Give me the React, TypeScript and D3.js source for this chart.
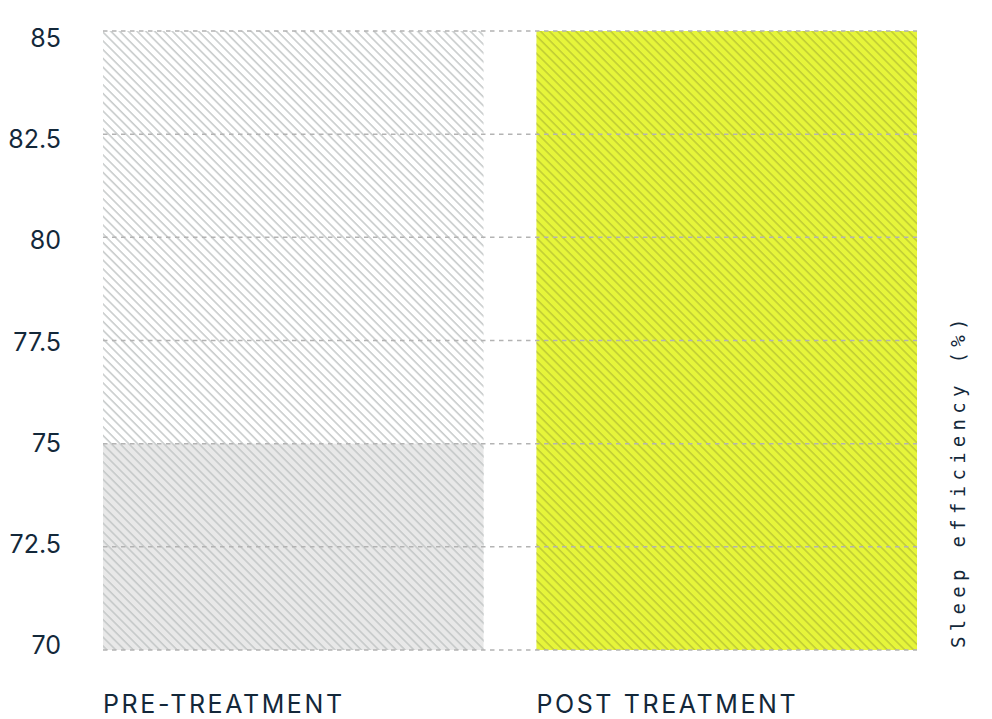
import { useEffect, useRef } from "react";
import * as d3 from "d3";

const categories = ["PRE-TREATMENT", "POST TREATMENT"];
const values = [75, 85];
const yTicks = [70, 72.5, 75, 77.5, 80, 82.5, 85];
const yDomain: [number, number] = [70, 85];
const axisTitle = "Sleep efficiency (%)";

export default function App() {
  const svgRef = useRef<SVGSVGElement | null>(null);

  useEffect(() => {
    document.body.style.margin = "0";
    const width = 992;
    const height = 719;
    const margin = { top: 31, right: 75, bottom: 69, left: 103 };
    const innerW = width - margin.left - margin.right;
    const innerH = height - margin.top - margin.bottom;

    const svg = d3.select(svgRef.current);
    svg.selectAll("*").remove();
    svg.attr("width", width).attr("height", height);

    const defs = svg.append("defs");
    const hatch = (id: string, bg: string, line: string) => {
      const p = defs.append("pattern")
        .attr("id", id)
        .attr("patternUnits", "userSpaceOnUse")
        .attr("width", 6.2)
        .attr("height", 6.2)
        .attr("patternTransform", "rotate(45)");
      p.append("rect").attr("width", 6.2).attr("height", 6.2).attr("fill", bg);
      p.append("line").attr("x1", -1).attr("x2", 7.2).attr("y1", 0.8).attr("y2", 0.8)
        .attr("stroke", line).attr("stroke-width", 1.6);
    };
    hatch("hatch-empty", "#ffffff", "#c9cccc");
    hatch("hatch-gray", "#e8e8e8", "#c6c9c9");
    hatch("hatch-yellow", "#e6f53a", "#c1cd35");

    const g = svg.append("g").attr("transform", `translate(${margin.left},${margin.top})`);

    const x = d3.scaleBand().domain(categories).range([0, innerW]).paddingInner(0.122).paddingOuter(0);
    const y = d3.scaleLinear().domain(yDomain).range([innerH, 0]);
    const labelY = y.copy().range([innerH - 5, 7]);

    // background hatch (full range) for each category
    g.selectAll("rect.bg")
      .data(categories)
      .join("rect")
      .attr("class", "bg")
      .attr("x", d => x(d)!)
      .attr("y", y(yDomain[1]))
      .attr("width", x.bandwidth())
      .attr("height", y(yDomain[0]) - y(yDomain[1]))
      .attr("fill", "url(#hatch-empty)");

    g.selectAll("rect.bar")
      .data(values)
      .join("rect")
      .attr("class", "bar")
      .attr("x", (_, i) => x(categories[i])!)
      .attr("y", d => y(d))
      .attr("width", x.bandwidth())
      .attr("height", d => y(yDomain[0]) - y(d))
      .attr("fill", (_, i) => i === 0 ? "url(#hatch-gray)" : "url(#hatch-yellow)");

    // dashed gridlines on top
    g.selectAll("line.grid")
      .data(yTicks)
      .join("line")
      .attr("class", "grid")
      .attr("x1", 0)
      .attr("x2", innerW)
      .attr("y1", d => y(d))
      .attr("y2", d => y(d))
      .attr("stroke", "#b3b3b3")
      .attr("stroke-width", 1.5)
      .attr("stroke-dasharray", "4.5,4.5");

    g.selectAll("text.tick")
      .data(yTicks)
      .join("text")
      .attr("class", "tick")
      .attr("x", -42)
      .attr("y", d => labelY(d))
      .attr("dy", "0.36em")
      .attr("text-anchor", "end")
      .attr("font-family", "Inter, 'Open Sans', sans-serif")
      .attr("font-size", 25)
      .attr("fill", "#13283a")
      .text(d => String(d));

    g.selectAll("text.cat")
      .data(categories)
      .join("text")
      .attr("class", "cat")
      .attr("x", d => x(d)!)
      .attr("y", innerH + 63)
      .attr("font-family", "Inter, 'Open Sans', sans-serif")
      .attr("font-size", 25)
      .attr("letter-spacing", 2.6)
      .attr("fill", "#13283a")
      .text(d => d);

    g.append("text")
      .attr("transform", `translate(${innerW + 48},${innerH - 2}) rotate(-90)`)
      .attr("font-family", "'DejaVu Sans Mono', 'Liberation Mono', monospace")
      .attr("font-size", 19)
      .attr("letter-spacing", 5.3)
      .attr("fill", "#13283a")
      .text(axisTitle);
  }, []);

  return <svg ref={svgRef} style={{ display: "block" }}></svg>;
}
